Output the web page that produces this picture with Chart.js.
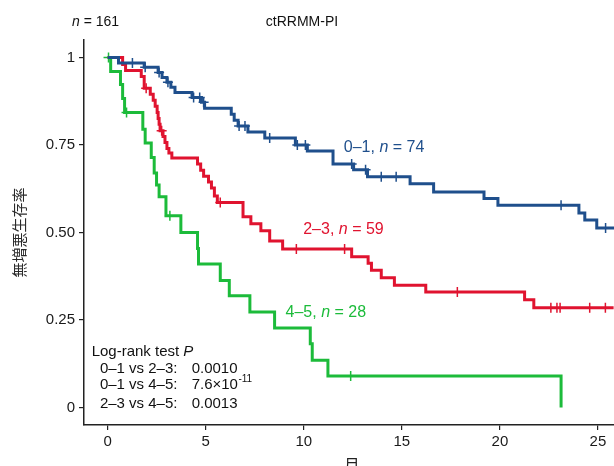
<!DOCTYPE html>
<html>
<head>
<meta charset="utf-8">
<script src="https://cdn.jsdelivr.net/npm/chart.js@4/dist/chart.umd.min.js"></script>
<style>
  html, body { margin: 0; padding: 0; background: #fff; overflow: hidden; }
  #wrap { width: 614px; height: 466px; overflow: hidden; position: relative; }
  #wrap canvas { position: absolute; left: 0; top: 0; }
</style>
</head>
<body>
<div id="wrap"><canvas id="km" width="626" height="490"></canvas></div>
<script>
// axis ticks
const xTicks = [0, 5, 10, 15, 20, 25];
const yTicks = [0, 0.25, 0.5, 0.75, 1];
const yTickLabels = ['0', '0.25', '0.50', '0.75', '1'];

// group 0-1 (n = 74)
const blueTime = [0, 0.55, 1.86, 2.57, 2.77, 3.02, 3.22, 3.43, 4.30, 4.78, 4.94, 6.30, 6.45, 6.65, 7.15, 8.01, 9.57, 10.18, 11.49, 12.54, 13.25, 15.42, 16.62, 19.19, 19.90, 24.03, 24.33, 24.94, 26.1];
const blueSurv = [1, 0.984, 0.972, 0.957, 0.943, 0.929, 0.915, 0.900, 0.886, 0.872, 0.855, 0.838, 0.821, 0.804, 0.787, 0.770, 0.750, 0.733, 0.696, 0.679, 0.659, 0.639, 0.616, 0.597, 0.578, 0.556, 0.536, 0.513, 0.513];
const blueCensor = [1.26, 1.91, 2.62, 3.07, 4.38, 4.69, 4.89, 6.70, 7.00, 8.26, 9.67, 10.08, 12.44, 13.15, 13.95, 14.71, 23.12, 25.39];

// group 2-3 (n = 59)
const redTime = [0, 0.76, 0.91, 1.71, 1.86, 2.17, 2.32, 2.42, 2.52, 2.57, 2.62, 2.67, 2.82, 2.92, 3.02, 3.12, 3.27, 4.58, 4.74, 4.89, 5.14, 5.29, 5.44, 5.59, 6.90, 7.30, 7.81, 8.26, 8.92, 12.44, 13.28, 13.45, 13.95, 14.62, 16.22, 21.26, 21.73, 25.8];
const redSurv = [1, 0.980, 0.963, 0.946, 0.912, 0.895, 0.878, 0.861, 0.843, 0.826, 0.809, 0.791, 0.774, 0.757, 0.740, 0.727, 0.713, 0.696, 0.678, 0.661, 0.644, 0.627, 0.604, 0.586, 0.545, 0.525, 0.505, 0.476, 0.453, 0.431, 0.412, 0.392, 0.371, 0.349, 0.330, 0.308, 0.285, 0.285];
const redCensor = [1.96, 2.75, 5.74, 9.62, 12.08, 17.83, 22.60, 22.91, 23.07, 24.58, 25.38];

// group 4-5 (n = 28)
const greenTime = [0, 0.15, 0.65, 0.76, 0.86, 1.79, 1.91, 2.22, 2.37, 2.49, 2.62, 2.97, 3.73, 4.58, 4.63, 5.74, 6.20, 7.25, 8.51, 10.33, 10.43, 11.23, 23.12];
const greenSurv = [1, 0.960, 0.923, 0.883, 0.843, 0.795, 0.756, 0.714, 0.670, 0.636, 0.602, 0.548, 0.500, 0.454, 0.410, 0.363, 0.319, 0.273, 0.227, 0.182, 0.135, 0.090, 0];
const greenCensor = [0.04, 0.96, 3.17, 12.39];

const BLUE = '#1f4f8c', RED = '#e0132f', GREEN = '#1cbb3a';
const FONT = "'Liberation Sans', Arial, sans-serif";

// value of step curve at time t
function survAt(times, surv, t) {
  let s = surv[0];
  for (let i = 0; i < times.length; i++) {
    if (times[i] <= t) s = surv[i];
  }
  return s;
}

function curve(times, surv, color) {
  return {
    data: times.map((t, i) => ({x: t, y: surv[i]})),
    borderColor: color,
    borderWidth: 3,
    stepped: true,
    pointRadius: 0,
    fill: false
  };
}

function marks(censor, times, surv, color) {
  return {
    data: censor.map(t => ({x: t, y: survAt(times, surv, t)})),
    showLine: false,
    pointStyle: 'cross',
    pointRadius: 5,
    pointBorderWidth: 1.5,
    borderColor: color,
    backgroundColor: color
  };
}

// draw text pieces, some italic, one after the other
function rich(ctx, parts, x, y, size, color) {
  ctx.fillStyle = color;
  let cx = x;
  parts.forEach(p => {
    ctx.font = (p[1] ? 'italic ' : '') + size + 'px ' + FONT;
    const dy = p[2] || 0;
    ctx.fillText(p[0], cx, y + dy);
    cx += ctx.measureText(p[0]).width;
  });
}

const textPlugin = {
  id: 'kmText',
  afterDraw(chart) {
    const {ctx} = chart;
    const x = chart.scales.x, y = chart.scales.y;
    ctx.save();
    ctx.textBaseline = 'middle';
    ctx.textAlign = 'left';

    rich(ctx, [['n', true], [' = 161']], 72, 22, 14, '#111');
    ctx.textAlign = 'center';
    ctx.font = '14px ' + FONT;
    ctx.fillStyle = '#111';
    ctx.fillText('ctRRMM-PI', 302, 22);
    ctx.textAlign = 'left';

    rich(ctx, [['0–1, '], ['n', true], [' = 74']], x.getPixelForValue(12.04), y.getPixelForValue(0.744), 16, BLUE);
    rich(ctx, [['2–3, '], ['n', true], [' = 59']], x.getPixelForValue(9.97), y.getPixelForValue(0.508), 16, RED);
    rich(ctx, [['4–5, '], ['n', true], [' = 28']], x.getPixelForValue(9.07), y.getPixelForValue(0.272), 16, GREEN);

    // log-rank box
    const c = '#111';
    rich(ctx, [['Log-rank test '], ['P', true]], x.getPixelForValue(-0.82), y.getPixelForValue(0.159), 15, c);
    const lx = x.getPixelForValue(-0.40), vx = x.getPixelForValue(4.28);
    rich(ctx, [['0–1 vs 2–3:']], lx, y.getPixelForValue(0.110), 15, c);
    rich(ctx, [['0.0010']], vx, y.getPixelForValue(0.110), 15, c);
    rich(ctx, [['0–1 vs 4–5:']], lx, y.getPixelForValue(0.064), 15, c);
    rich(ctx, [['7.6×10']], vx, y.getPixelForValue(0.064), 15, c);
    ctx.font = '15px ' + FONT;
    const w = ctx.measureText('7.6×10').width;
    ctx.font = '10px ' + FONT;
    ctx.fillText('-11', vx + w + 0.5, y.getPixelForValue(0.064) - 6);
    rich(ctx, [['2–3 vs 4–5:']], lx, y.getPixelForValue(0.010), 15, c);
    rich(ctx, [['0.0013']], vx, y.getPixelForValue(0.010), 15, c);
    ctx.restore();
  }
};

const axisCommon = {
  grid: { display: true, drawOnChartArea: false, drawTicks: true, tickLength: 5, color: '#222', lineWidth: 1.2 },
  border: { display: true, color: '#222', width: 1.5 },
  ticks: { color: '#1a1a1a', font: { family: FONT, size: 15 }, padding: 3 }
};

new Chart(document.getElementById('km'), {
  type: 'line',
  data: {
    datasets: [
      curve(blueTime, blueSurv, BLUE),
      marks(blueCensor, blueTime, blueSurv, BLUE),
      curve(redTime, redSurv, RED),
      marks(redCensor, redTime, redSurv, RED),
      curve(greenTime, greenSurv, GREEN),
      marks(greenCensor, greenTime, greenSurv, GREEN)
    ]
  },
  options: {
    responsive: false,
    animation: false,
    layout: { padding: { top: 40, right: 0, left: 0, bottom: 0 } },
    plugins: { legend: { display: false }, tooltip: { enabled: false } },
    scales: {
      x: {
        type: 'linear',
        min: -1.21,
        max: 26.1,
        ...axisCommon,
        afterBuildTicks: s => { s.ticks = xTicks.map(v => ({value: v})); },
        afterFit: s => { s.height = 65; },
        title: { display: true, text: '月', color: '#222', font: { family: "'Noto Sans CJK JP', sans-serif", size: 16 }, padding: { top: 0, bottom: 15 } }
      },
      y: {
        type: 'linear',
        min: -0.05,
        max: 1.05,
        ...axisCommon,
        ticks: { ...axisCommon.ticks, padding: 4, callback: v => yTickLabels[yTicks.indexOf(v)] },
        afterBuildTicks: s => { s.ticks = yTicks.map(v => ({value: v})); },
        afterFit: s => { s.width = 84; },
        title: { display: true, text: '無増悪生存率', color: '#2a2a2a', font: { family: "'Noto Sans CJK JP', sans-serif", size: 15 }, padding: { top: 10, bottom: 0 } }
      }
    }
  },
  plugins: [textPlugin]
});
</script>
</body>
</html>
